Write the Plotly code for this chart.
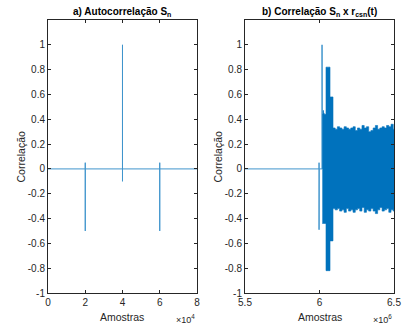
import plotly.graph_objects as go

# ---- Data ----
# a) Autocorrelation S_n (samples, correlation)
auto_x = [0, 19990, 20000, 20000, 20010, 39990, 40000, 40000, 40010, 59990, 60000, 60000, 60010, 80000]
auto_y = [0, 0, 0.05, -0.5, 0, 0, 1.0, -0.1, 0, 0, 0.05, -0.5, 0, 0]

# b) Correlation S_n x r_csn(t): sparse part (samples)
corr_x = [5.5e6, 5.997e6, 5.997e6, 5.997e6, 5.998e6, 6.017e6, 6.017e6, 6.018e6, 6.019e6]
corr_y = [0, 0, 0.05, -0.49, 0, 0, 1.0, 0, 0]

# b) dense oscillation envelope (start of each step, in samples)
env_x = [6.019e6, 6.024e6, 6.027e6, 6.031e6, 6.0436e6, 6.0705e6, 6.0906e6,
         6.105e6, 6.12e6, 6.135e6, 6.15e6, 6.165e6, 6.18e6, 6.195e6, 6.21e6,
         6.225e6, 6.24e6, 6.255e6, 6.27e6, 6.285e6, 6.30e6, 6.315e6, 6.33e6,
         6.345e6, 6.36e6, 6.375e6, 6.39e6, 6.405e6, 6.42e6, 6.435e6, 6.45e6,
         6.465e6, 6.48e6, 6.495e6, 6.5e6]
env_upper = [0.44, 0.47, 0.45, 0.44, 0.82, 0.58, 0.33,
             0.32, 0.34, 0.33, 0.32, 0.34, 0.33, 0.32, 0.33,
             0.34, 0.31, 0.33, 0.32, 0.35, 0.33, 0.34, 0.30,
             0.31, 0.33, 0.35, 0.32, 0.33, 0.34, 0.33, 0.35,
             0.34, 0.36, 0.32, 0.32]
env_lower = [-0.44, -0.44, -0.44, -0.44, -0.82, -0.58, -0.32,
             -0.33, -0.32, -0.34, -0.33, -0.35, -0.32, -0.34, -0.33,
             -0.35, -0.33, -0.32, -0.34, -0.31, -0.35, -0.33, -0.34,
             -0.32, -0.34, -0.36, -0.33, -0.31, -0.34, -0.33, -0.32,
             -0.35, -0.33, -0.34, -0.34]

y_ticks = [-1, -0.8, -0.6, -0.4, -0.2, 0, 0.2, 0.4, 0.6, 0.8, 1]
y_ticktext = ["-1", "-0.8", "-0.6", "-0.4", "-0.2", "0", "0.2", "0.4", "0.6", "0.8", "1"]
xa_ticks = [0, 20000, 40000, 60000, 80000]
xa_ticktext = ["0", "2", "4", "6", "8"]
xb_ticks = [5.5e6, 6.0e6, 6.5e6]
xb_ticktext = ["5.5", "6", "6.5"]

BLUE = "#0072BD"
AX = "#262626"
FONT = "Liberation Sans, Arial, Helvetica, sans-serif"

fig = go.Figure()
fig.add_trace(go.Scatter(x=auto_x, y=auto_y, mode="lines",
                         line=dict(color=BLUE, width=1), opacity=0.75,
                         xaxis="x", yaxis="y", showlegend=False))
fig.add_trace(go.Scatter(x=env_x, y=env_lower, mode="lines", line_shape="hv",
                         line=dict(color=BLUE, width=0.6),
                         xaxis="x2", yaxis="y2", showlegend=False))
fig.add_trace(go.Scatter(x=env_x, y=env_upper, mode="lines", line_shape="hv",
                         line=dict(color=BLUE, width=0.6), fill="tonexty",
                         fillcolor=BLUE,
                         xaxis="x2", yaxis="y2", showlegend=False))
fig.add_trace(go.Scatter(x=corr_x, y=corr_y, mode="lines",
                         line=dict(color=BLUE, width=1), opacity=0.75,
                         xaxis="x2", yaxis="y2", showlegend=False))

common_axis = dict(showline=True, mirror="ticks", linecolor=AX, linewidth=1,
                   ticks="inside", ticklen=3, tickcolor=AX, showgrid=False,
                   zeroline=False, automargin=False,
                   tickfont=dict(family=FONT, size=10, color=AX))

fig.update_layout(
    width=405, height=331,
    margin=dict(l=48, r=11, t=20, b=38),
    paper_bgcolor="white", plot_bgcolor="white",
    font=dict(family=FONT, color=AX),
    xaxis=dict(domain=[0, 0.4306], range=[0, 80000], tickvals=xa_ticks,
               ticktext=xa_ticktext, anchor="y", **common_axis),
    yaxis=dict(domain=[0, 1], range=[-1, 1.2], tickvals=y_ticks,
               ticktext=y_ticktext, anchor="x", **common_axis),
    xaxis2=dict(domain=[0.5694, 1], range=[5.5e6, 6.5e6], tickvals=xb_ticks,
                ticktext=xb_ticktext, anchor="y2", **common_axis),
    yaxis2=dict(domain=[0, 1], range=[-1, 1.2], tickvals=y_ticks,
                ticktext=y_ticktext, anchor="x2", **common_axis),
)

ann = []
# titles
ann.append(dict(text="<b>a) Autocorrelação S<sub>n</sub></b>", x=0.2153, y=1.0,
                xref="paper", yref="paper", xanchor="center", yanchor="bottom", yshift=0,
                showarrow=False, font=dict(size=10, color="black", family=FONT)))
ann.append(dict(text="<b>b) Correlação S<sub>n</sub> x r<sub>csn</sub>(t)</b>", x=0.7847, y=1.0,
                xref="paper", yref="paper", xanchor="center", yanchor="bottom", yshift=0,
                showarrow=False, font=dict(size=10, color="black", family=FONT)))
# x labels
for cx in (0.2153, 0.7847):
    ann.append(dict(text="Amostras", x=cx, y=0, xref="paper", yref="paper",
                    xanchor="center", yanchor="top", yshift=-16, showarrow=False,
                    font=dict(size=10.5, color=AX, family=FONT)))
# exponent labels
for rx, e in ((0.4306, "4"), (1.0, "6")):
    ann.append(dict(text="×10<sup>" + e + "</sup>", x=rx, y=0, xref="paper", yref="paper",
                    xanchor="right", yanchor="top", yshift=-18, xshift=0,
                    showarrow=False, font=dict(size=9, color=AX, family=FONT)))
# y labels
for lx in (0.0, 0.5694):
    ann.append(dict(text="Correlação", x=lx, y=0.5, xref="paper", yref="paper",
                    xanchor="center", yanchor="middle", xshift=-28, textangle=-90,
                    showarrow=False, font=dict(size=10.5, color=AX, family=FONT)))
fig.update_layout(annotations=ann)

fig.write_html("out.html", config={"displayModeBar": False},
               post_script="document.body.style.margin='0';document.body.style.overflow='hidden';")
